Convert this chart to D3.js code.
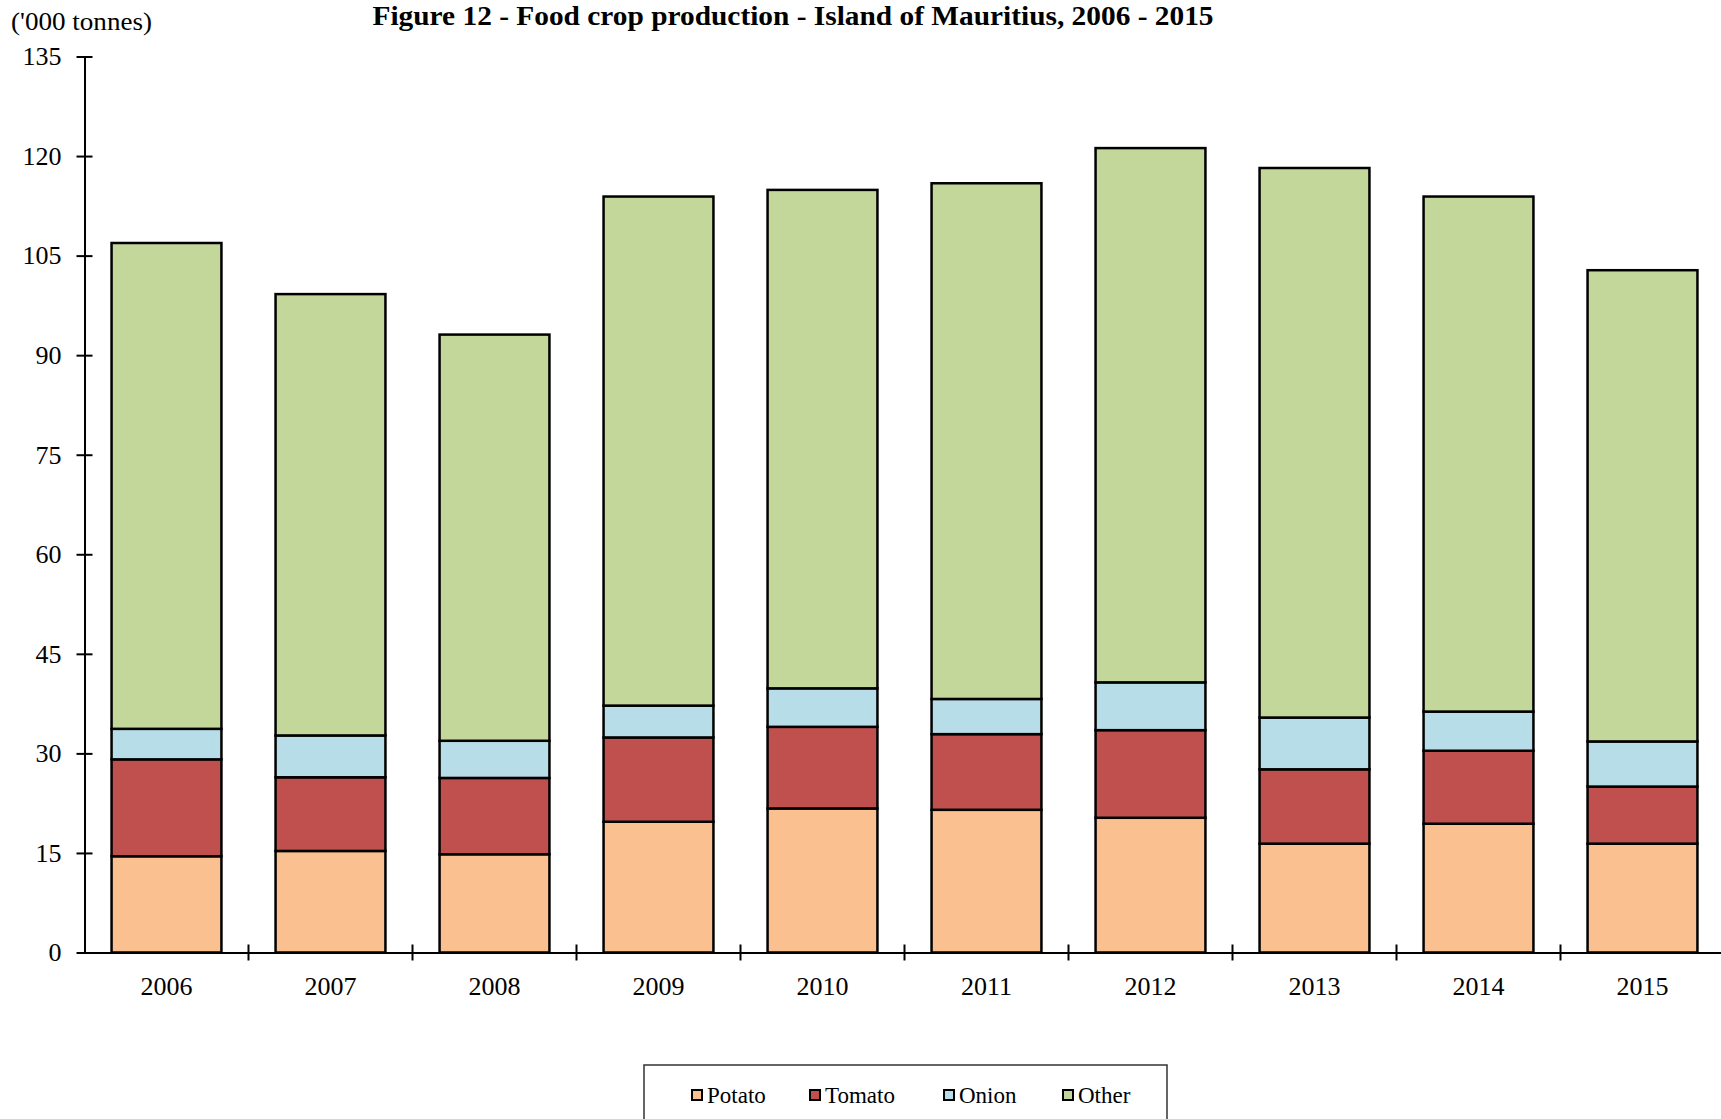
<!DOCTYPE html>
<html>
<head>
<meta charset="utf-8">
<script src="https://cdn.jsdelivr.net/npm/d3@7/dist/d3.min.js"></script>
<style>
  html, body { margin: 0; padding: 0; background: #fff; }
  svg { display: block; font-family: "Liberation Serif", "Times New Roman", serif; }
</style>
</head>
<body>
<svg id="chart" width="1721" height="1119"></svg>
<script>
const years = ["2006","2007","2008","2009","2010","2011","2012","2013","2014","2015"];
const seriesNames = ["Potato","Tomato","Onion","Other"];
const potato = [14.5, 15.3, 14.8, 19.7, 21.7, 21.5, 20.3, 16.4, 19.4, 16.4];
const tomato = [14.6, 11.1, 11.5, 12.7, 12.3, 11.4, 13.2, 11.2, 11.0, 8.6];
const onion  = [4.6, 6.3, 5.6, 4.8, 5.8, 5.3, 7.2, 7.8, 5.9, 6.8];
const other  = [73.2, 66.5, 61.2, 76.7, 75.1, 77.7, 80.5, 82.8, 77.6, 71.0];
const yTicks = [0, 15, 30, 45, 60, 75, 90, 105, 120, 135];
const colors = ["#FAC090", "#C0504D", "#B7DEE8", "#C4D79B"];
const title = "Figure 12 - Food crop production - Island of Mauritius, 2006 - 2015";
const unitLabel = "('000 tonnes)";

const table = years.map((y, i) => ({year: y, Potato: potato[i], Tomato: tomato[i], Onion: onion[i], Other: other[i]}));
const stacked = d3.stack().keys(seriesNames)(table);

const svg = d3.select("#chart");
const x = d3.scaleBand().domain(years).range([84.5, 1724.5]).paddingInner(0.33).paddingOuter(0.165);
const y = d3.scaleLinear().domain([0, 135]).range([952.5, 56.5]);
const color = d3.scaleOrdinal().domain(seriesNames).range(colors);

// Title
svg.append("text")
  .attr("x", 793).attr("y", 25)
  .attr("text-anchor", "middle")
  .attr("font-size", 28).attr("font-weight", "bold")
  .attr("textLength", 841).attr("lengthAdjust", "spacingAndGlyphs")
  .text(title);

// Unit label
svg.append("text")
  .attr("x", 11).attr("y", 30)
  .attr("font-size", 26)
  .attr("textLength", 141).attr("lengthAdjust", "spacingAndGlyphs")
  .text(unitLabel);

// Bars
svg.append("g").selectAll("g").data(stacked).join("g")
  .attr("fill", d => color(d.key))
  .selectAll("rect").data(d => d).join("rect")
  .attr("x", d => x(d.data.year))
  .attr("width", x.bandwidth())
  .attr("y", d => y(d[1]))
  .attr("height", d => y(d[0]) - y(d[1]))
  .attr("stroke", "#000").attr("stroke-width", 2.5);

// Y axis
const yAxis = svg.append("g").attr("transform", "translate(84.5,0)")
  .call(d3.axisLeft(y).tickValues(yTicks).tickSize(0).tickPadding(23));
yAxis.select(".domain").attr("stroke", "#000").attr("stroke-width", 2);
yAxis.selectAll(".tick line").attr("x1", -8).attr("x2", 8).attr("stroke", "#000").attr("stroke-width", 2);
yAxis.selectAll(".tick text").attr("font-size", 26).attr("fill", "#000")
  .attr("font-family", "Liberation Serif, Times New Roman, serif");

// X axis
const xAxis = svg.append("g").attr("transform", "translate(0,952.5)")
  .call(d3.axisBottom(x).tickSize(0).tickPadding(24));
xAxis.select(".domain").attr("stroke", "#000").attr("stroke-width", 2);
xAxis.selectAll(".tick text").attr("font-size", 26).attr("fill", "#000")
  .attr("font-family", "Liberation Serif, Times New Roman, serif");
const gap = (x.step() - x.bandwidth()) / 2;
xAxis.append("g").selectAll("line").data(years.slice(1)).join("line")
  .attr("x1", d => x(d) - gap).attr("x2", d => x(d) - gap)
  .attr("y1", -8).attr("y2", 8)
  .attr("stroke", "#000").attr("stroke-width", 2);

// Legend
const legend = svg.append("g");
legend.append("rect")
  .attr("x", 644).attr("y", 1065).attr("width", 523).attr("height", 80)
  .attr("fill", "#fff").attr("stroke", "#333").attr("stroke-width", 1.5);
const legendX = [691, 809, 943, 1062];
const items = legend.selectAll("g.item").data(seriesNames).join("g").attr("class", "item")
  .attr("transform", (d, i) => `translate(${legendX[i]},1095)`);
items.append("rect")
  .attr("x", 1).attr("y", -5).attr("width", 10).attr("height", 10)
  .attr("fill", d => color(d)).attr("stroke", "#000").attr("stroke-width", 2);
items.append("text")
  .attr("x", 16).attr("y", 8)
  .attr("font-size", 23)
  .text(d => d);
</script>
</body>
</html>
